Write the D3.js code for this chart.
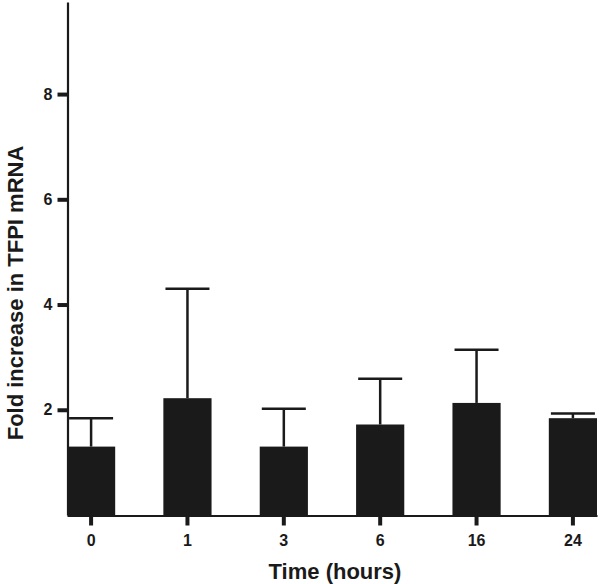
<!DOCTYPE html>
<html>
<head>
<meta charset="utf-8">
<script src="https://cdn.jsdelivr.net/npm/d3@7"></script>
<style>
  body { margin: 0; background: #fff; }
  text { font-family: "Liberation Sans", Arial, sans-serif; font-weight: bold; fill: #1a1a1a; }
  .tick text { font-size: 16px; }
</style>
</head>
<body>
<div id="chart"></div>
<script>
const times = ['0', '1', '3', '6', '16', '24'];
const means = [1.30, 2.22, 1.30, 1.72, 2.13, 1.84];
const upper = [1.84, 4.30, 2.02, 2.59, 3.14, 1.93];
const yTicks = [2, 4, 6, 8];

const width = 600, height = 584;
const ink = '#1a1a1a';

const svg = d3.select('#chart')
  .append('svg')
    .attr('width', width)
    .attr('height', height);

const x = d3.scaleBand()
  .domain(times)
  .range([67, 597])
  .paddingInner(0.5)
  .paddingOuter(0);

const y = d3.scaleLinear()
  .domain([0, 9.75])
  .range([515, 2]);

// bars
svg.append('g')
  .selectAll('rect')
  .data(times)
  .join('rect')
    .attr('x', d => x(d))
    .attr('width', x.bandwidth())
    .attr('y', (d, i) => y(means[i]))
    .attr('height', (d, i) => y(0) - y(means[i]))
    .attr('fill', ink);

// error bars (upper only)
const err = svg.append('g').attr('stroke', ink).attr('stroke-width', 2.5);
times.forEach((t, i) => {
  const cx = x(t) + x.bandwidth() / 2;
  err.append('line')
    .attr('x1', cx).attr('x2', cx)
    .attr('y1', y(means[i])).attr('y2', y(upper[i]));
  err.append('line')
    .attr('x1', cx - 22).attr('x2', cx + 22)
    .attr('y1', y(upper[i])).attr('y2', y(upper[i]));
});

// y axis
const yAxis = svg.append('g')
  .attr('transform', 'translate(67.5,0)')
  .call(d3.axisLeft(y).tickValues(yTicks).tickSize(10).tickPadding(5).tickSizeOuter(0));
yAxis.select('.domain').attr('stroke', ink).attr('stroke-width', 2.2);
yAxis.selectAll('.tick line').attr('stroke', ink).attr('stroke-width', 4);

// x axis
const xAxis = svg.append('g')
  .attr('transform', `translate(0,${y(0) + 0.5})`)
  .call(d3.axisBottom(x).tickSize(10).tickPadding(9).tickSizeOuter(0));
xAxis.select('.domain').attr('stroke', ink).attr('stroke-width', 2.2);
xAxis.selectAll('.tick line').attr('stroke', ink).attr('stroke-width', 4);

// titles
svg.append('text')
  .attr('x', 335)
  .attr('y', 579)
  .attr('text-anchor', 'middle')
  .style('font-size', '22px')
  .text('Time (hours)');

svg.append('text')
  .attr('transform', 'translate(23,293) rotate(-90)')
  .attr('text-anchor', 'middle')
  .style('font-size', '22px')
  .text('Fold increase in TFPI mRNA');
</script>
</body>
</html>
